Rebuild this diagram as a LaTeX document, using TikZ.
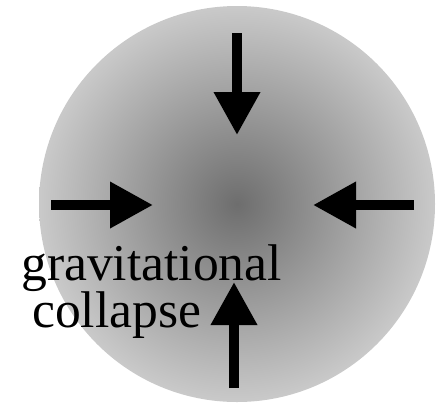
\documentclass[tikz,border=0pt]{standalone}
\usepackage{fontspec}
\setmainfont{Liberation Serif}
\usetikzlibrary{arrows.meta}
\tikzset{
  pusharrow/.style={line width=10pt, draw=black, -{Triangle[length=43pt,width=44pt]}},
  labeltext/.style={inner sep=0pt, anchor=base west, font=\fontsize{51.6}{47}\selectfont}
}
\begin{document}
\begin{tikzpicture}[x=1pt,y=-1pt]
\useasboundingbox (0,0) rectangle (438,402);
\shade[inner color=black!57, outer color=black!21] (237,204) circle[radius=198];
% arrow end points
\coordinate (ttail) at (237,33);
\coordinate (ttip) at (237,135);
\coordinate (ltail) at (51,205);
\coordinate (ltip) at (153,205);
\coordinate (rtail) at (414,205);
\coordinate (rtip) at (313,205);
\coordinate (btail) at (234,388);
\coordinate (btip) at (234,282);
\draw[pusharrow] (ttail) -- (ttip);
\draw[pusharrow] (ltail) -- (ltip);
\draw[pusharrow] (rtail) -- (rtip);
\draw[pusharrow] (btail) -- (btip);
\node[labeltext] (grav) at (21,280) {gravitational};
\node[labeltext] (coll) at (32,327) {collapse};
\end{tikzpicture}
\end{document}
